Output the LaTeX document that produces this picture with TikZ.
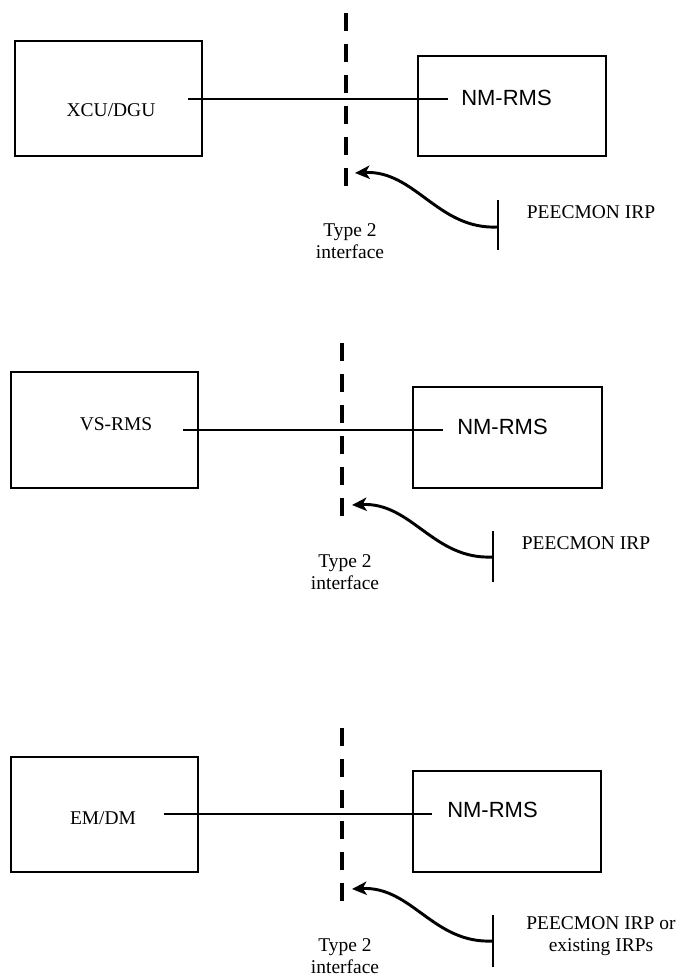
\documentclass[tikz,border=0pt]{standalone}
\usepackage{fontspec}
\setmainfont{Liberation Serif}
\newfontfamily\nmfont{Liberation Sans}
\usetikzlibrary{arrows.meta}
\begin{document}
\begin{tikzpicture}[x=0.75pt,y=-0.75pt,
  box/.style={draw, line width=1.1pt, inner sep=0pt},
  lbl/.style={font=\fontsize{14.6}{16.5}\selectfont, inner sep=0pt, align=center},
  nmlbl/.style={font=\nmfont\fontsize{16.5}{18}\selectfont, inner sep=0pt, anchor=west},
  link/.style={line width=0.8pt},
  iface/.style={line width=3.4pt, dash pattern=on 13.5pt off 9.75pt},
  bar/.style={line width=0.8pt},
  irp/.style={line width=2.2pt, -{Stealth[length=11pt,width=10pt,inset=3pt]}}]
\useasboundingbox[fill=white] (0,0) rectangle (685,976);

% ---------- Panel 1 ----------
\node[box, minimum width=140.25pt, minimum height=86.25pt] (L1) at (108.5,98.5) {};
\node[box, minimum width=141pt, minimum height=75pt] (R1) at (512,106) {};
\node[lbl] (X1) at (111,110) {XCU/DGU};
\node[nmlbl] (N1) at (461,98) {NM-RMS};
\coordinate (s1) at (188,99);
\coordinate (e1) at (448,99);
\draw[link] (s1) -- (e1);
\coordinate (t1) at (346,13);
\coordinate (b1) at (346,188);
\draw[iface] (t1) -- (b1);
\coordinate (bt1) at (498,200);
\coordinate (bb1) at (498,250);
\coordinate (c1) at (498,227);
\coordinate (a1) at (355,173);
\draw[bar] (bt1) -- (bb1);
\draw[irp] (c1) .. controls +(-60,3) and +(60,-3) .. (a1);
\node[lbl] (T1) at (350,241) {Type 2\\interface};
\node[lbl] (P1) at (591,212) {PEECMON IRP};

% ---------- Panel 2 ----------
\node[box, minimum width=140.25pt, minimum height=87pt] (L2) at (104.5,430) {};
\node[box, minimum width=141.75pt, minimum height=75.75pt] (R2) at (507.5,437.5) {};
\node[lbl] (X2) at (116,424) {VS-RMS};
\node[nmlbl] (N2) at (457,427) {NM-RMS};
\coordinate (s2) at (183,430);
\coordinate (e2) at (443,430);
\draw[link] (s2) -- (e2);
\coordinate (t2) at (342,343);
\coordinate (b2) at (342,519);
\draw[iface] (t2) -- (b2);
\coordinate (bt2) at (493,531);
\coordinate (bb2) at (493,582);
\coordinate (c2) at (493,557);
\coordinate (a2) at (352,505);
\draw[bar] (bt2) -- (bb2);
\draw[irp] (c2) .. controls +(-60,3) and +(60,-3) .. (a2);
\node[lbl] (T2) at (345,572) {Type 2\\interface};
\node[lbl] (P2) at (586,543) {PEECMON IRP};

% ---------- Panel 3 ----------
\node[box, minimum width=140.25pt, minimum height=86.25pt] (L3) at (104.5,814.5) {};
\node[box, minimum width=141pt, minimum height=75.75pt] (R3) at (507,821.5) {};
\node[lbl] (X3) at (103,818) {EM/DM};
\node[nmlbl] (N3) at (447,810) {NM-RMS};
\coordinate (s3) at (164,814);
\coordinate (e3) at (432,814);
\draw[link] (s3) -- (e3);
\coordinate (t3) at (342,728);
\coordinate (b3) at (342,903);
\draw[iface] (t3) -- (b3);
\coordinate (bt3) at (493,915);
\coordinate (bb3) at (493,967);
\coordinate (c3) at (493,941);
\coordinate (a3) at (352,889);
\draw[bar] (bt3) -- (bb3);
\draw[irp] (c3) .. controls +(-60,3) and +(60,-3) .. (a3);
\node[lbl] (T3) at (345,956) {Type 2\\interface};
\node[lbl] (P3) at (601,936) {PEECMON IRP or\\existing IRPs};
\end{tikzpicture}
\end{document}
